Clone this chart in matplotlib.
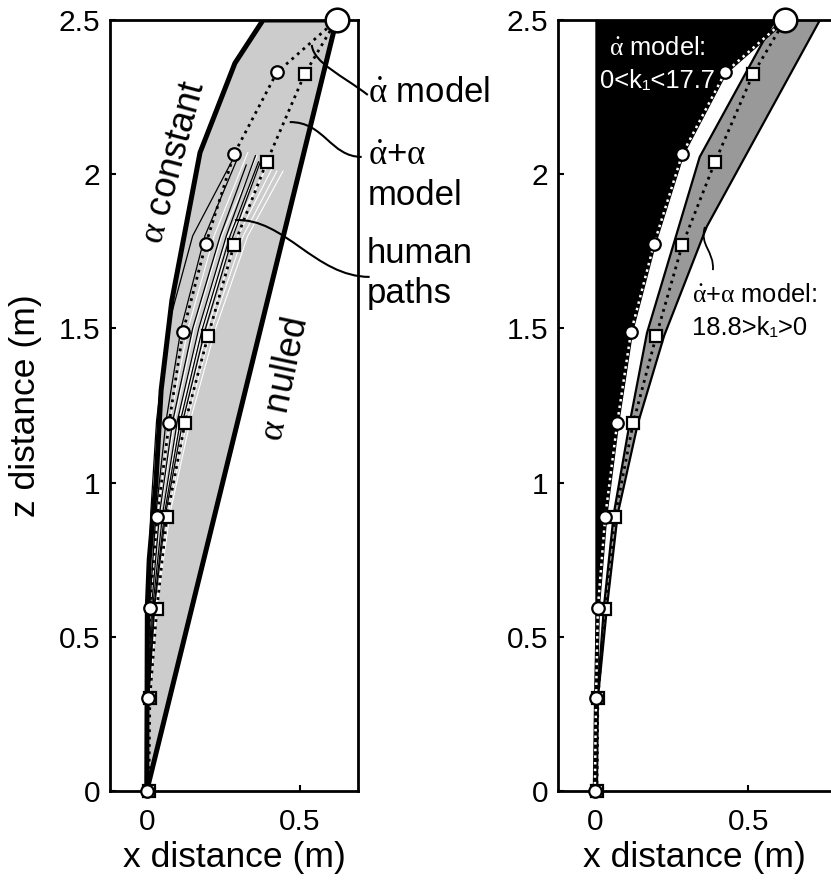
import numpy as np
import matplotlib
matplotlib.use("Agg")
import matplotlib.pyplot as plt
from matplotlib.path import Path
from matplotlib.patches import PathPatch

plt.rcParams['font.family'] = ['Liberation Sans', 'DejaVu Sans']
plt.rcParams['mathtext.fontset'] = 'custom'
plt.rcParams['mathtext.rm'] = 'Liberation Serif'
plt.rcParams['mathtext.it'] = 'Liberation Serif:italic'

# target (interception point)
target = (0.62, 2.5)

# alpha-dot model path (circles)
circ_x = [0, 0.004, 0.01, 0.034, 0.073, 0.118, 0.193, 0.285, 0.425, 0.62]
circ_z = [0, 0.30, 0.595, 0.89, 1.193, 1.488, 1.774, 2.065, 2.33, 2.5]

# alpha-dot + alpha model path (squares)
sq_x = [0.007, 0.01, 0.033, 0.066, 0.125, 0.2, 0.285, 0.392, 0.516, 0.62]
sq_z = [0, 0.30, 0.59, 0.89, 1.193, 1.475, 1.77, 2.04, 2.325, 2.5]

# boundaries of the left panel region
const_x = [0, 0.002, 0.008, 0.03, 0.047, 0.082, 0.174, 0.288, 0.38, 0.62]
const_z = [0, 0.6, 0.75, 1.0, 1.3, 1.59, 2.07, 2.36, 2.5, 2.5]
null_x = [0, 0.62]
null_z = [0, 2.5]

# human paths: x at these z levels, then an end point
hz = [0, 0.3, 0.6, 0.9, 1.2, 1.5, 1.8]
human_black = [
    [0, 0.000, 0.003, 0.013, 0.032, 0.068, 0.150],
    [0, 0.002, 0.010, 0.030, 0.063, 0.112, 0.190],
    [0, 0.004, 0.016, 0.042, 0.085, 0.150, 0.240],
    [0, 0.005, 0.020, 0.052, 0.100, 0.170, 0.260],
    [0, 0.006, 0.024, 0.058, 0.110, 0.182, 0.272],
    [0, 0.007, 0.026, 0.062, 0.118, 0.192, 0.282],
]
human_black_end = [(0.282, 2.05), (0.300, 2.06), (0.325, 2.03),
                   (0.355, 2.06), (0.365, 2.04), (0.375, 2.05)]
human_white = [
    [0, 0.003, 0.013, 0.036, 0.075, 0.135, 0.220],
    [0, 0.004, 0.017, 0.044, 0.090, 0.155, 0.245],
    [0, 0.005, 0.021, 0.052, 0.102, 0.172, 0.265],
    [0, 0.006, 0.024, 0.058, 0.112, 0.185, 0.280],
    [0, 0.007, 0.027, 0.064, 0.122, 0.198, 0.298],
    [0, 0.008, 0.030, 0.070, 0.132, 0.212, 0.315],
    [0, 0.009, 0.033, 0.076, 0.142, 0.225, 0.330],
    [0, 0.006, 0.022, 0.054, 0.105, 0.178, 0.272],
]
human_white_end = [(0.33, 2.07), (0.36, 2.06), (0.37, 2.03), (0.39, 2.02),
                   (0.41, 2.02), (0.425, 2.01), (0.445, 2.01), (0.38, 2.0)]

# right panel: range of the alpha-dot+alpha model band
band_left_x = [0.005, 0.008, 0.03, 0.062, 0.113, 0.17, 0.342, 0.587]
band_left_z = [0, 0.3, 0.6, 0.9, 1.19, 1.485, 2.056, 2.5]
band_right_x = [0.007, 0.01, 0.04, 0.075, 0.14, 0.226, 0.365, 0.734]
band_right_z = [0, 0.3, 0.6, 0.9, 1.19, 1.476, 1.83, 2.5]

yticks = [0, 0.5, 1, 1.5, 2, 2.5]
yticklabels = ['0', '0.5', '1', '1.5', '2', '2.5']
xticks = [0, 0.5]
xticklabels = ['0', '0.5']

ADOT = r'$\dot{\mathrm{α}}$'
ALPHA = r'$\mathrm{α}$'


def leader(ax, p0, p1, p2, p3, lw=1.5):
    path = Path([p0, p1, p2, p3], [Path.MOVETO, Path.CURVE4, Path.CURVE4, Path.CURVE4])
    ax.add_patch(PathPatch(path, fc='none', ec='k', lw=lw, clip_on=False, zorder=6))


def style_axes(ax):
    ax.set_ylim(0, 2.5)
    ax.set_yticks(yticks)
    ax.set_yticklabels(yticklabels)
    ax.set_xticks(xticks)
    ax.set_xticklabels(xticklabels)
    ax.tick_params(direction='in', length=4.5, width=1.5, labelsize=21.5)
    ax.tick_params(axis='y', pad=7)
    ax.tick_params(axis='x', pad=12)
    for s in ax.spines.values():
        s.set_linewidth(2)
        s.set_zorder(7)
    ax.set_xlabel('x distance (m)', fontsize=25.5, labelpad=4)


def draw_markers(ax):
    ax.plot(sq_x[:-1], sq_z[:-1], 's', ms=8, mfc='white', mec='k', mew=1.6,
            zorder=8, clip_on=False)
    ax.plot(circ_x[:-1], circ_z[:-1], 'o', ms=9, mfc='white', mec='k', mew=1.6,
            zorder=9, clip_on=False)
    ax.plot(*target, 'o', ms=17, mfc='white', mec='k', mew=1.8,
            zorder=10, clip_on=False)


fig = plt.figure(figsize=(8.31, 8.84), dpi=100)
ax1 = fig.add_axes([110 / 831, 93 / 884, 248 / 831, 771 / 884])
ax2 = fig.add_axes([558 / 831, 93 / 884, 273 / 831, 771 / 884])

# ---- left panel ----
ax1.fill(const_x + null_x[::-1], const_z + null_z[::-1], color='#cccccc', lw=0, zorder=1)
ax1.plot(const_x, const_z, color='k', lw=3.6, zorder=3, solid_joinstyle='miter')
ax1.plot(null_x, null_z, color='k', lw=3.6, zorder=3)

for xs, (ex, ez) in zip(human_white, human_white_end):
    ax1.plot(xs + [ex], hz + [ez], color='white', lw=0.8, zorder=2)
for xs, (ex, ez) in zip(human_black, human_black_end):
    ax1.plot(xs + [ex], hz + [ez], color='k', lw=0.9, zorder=2)

ax1.plot(circ_x, circ_z, color='k', lw=2, ls=':', zorder=4)
ax1.plot(sq_x, sq_z, color='k', lw=2, ls=':', zorder=4)
draw_markers(ax1)

ax1.set_xlim(-0.12, 0.69)
style_axes(ax1)
ax1.set_ylabel('z distance (m)', fontsize=25.5, labelpad=12)

ax1.text(0.089, 2.04, ALPHA + ' constant', fontsize=26, rotation=75,
         ha='center', va='center', rotation_mode='anchor', zorder=6)
ax1.text(0.451, 1.333, ALPHA + ' nulled', fontsize=26, rotation=78,
         ha='center', va='center', rotation_mode='anchor', zorder=6)

ax1.text(0.722, 2.234, ADOT + ' model', fontsize=25, va='baseline', clip_on=False)
ax1.text(0.722, 2.030, ADOT + '+' + ALPHA, fontsize=25, va='baseline', clip_on=False)
ax1.text(0.722, 1.900, 'model', fontsize=25, va='baseline', clip_on=False)
ax1.text(0.718, 1.712, 'human', fontsize=25, va='baseline', clip_on=False)
ax1.text(0.718, 1.582, 'paths', fontsize=25, va='baseline', clip_on=False)

leader(ax1, (0.539, 2.419), (0.545, 2.36), (0.64, 2.32), (0.722, 2.257))
leader(ax1, (0.467, 2.169), (0.58, 2.17), (0.60, 2.056), (0.702, 2.056))
leader(ax1, (0.288, 1.851), (0.45, 1.86), (0.55, 1.667), (0.728, 1.667))

# ---- right panel ----
ax2.fill_betweenx(circ_z, 0, circ_x, color='k', lw=0, zorder=1)
ax2.fill(band_left_x + band_right_x[::-1], band_left_z + band_right_z[::-1],
         color='#999999', lw=0, zorder=1)
ax2.plot(band_left_x, band_left_z, color='k', lw=1.6, zorder=3)
ax2.plot(band_right_x, band_right_z, color='k', lw=1.6, zorder=3)
ax2.plot(sq_x, sq_z, color='k', lw=2, ls=':', zorder=4)
ax2.plot(circ_x, circ_z, color='k', lw=3, zorder=4)
ax2.plot(circ_x, circ_z, color='white', lw=1.8, ls=':', zorder=5)
draw_markers(ax2)

ax2.set_xlim(-0.12, 0.77)
style_axes(ax2)
ax2.spines['right'].set_visible(False)

ax2.text(0.205, 2.387, ADOT + ' model:', fontsize=18.4, color='white',
         ha='center', va='baseline', zorder=6)
ax2.text(0.205, 2.279, '0<k₁<17.7', fontsize=18.4, color='white',
         ha='center', va='baseline', zorder=6)
ax2.text(0.316, 1.586, ADOT + '+' + ALPHA + ' model:', fontsize=18.4,
         va='baseline', zorder=6)
ax2.text(0.316, 1.479, '18.8>k₁>0', fontsize=18.4, va='baseline', zorder=6)
leader(ax2, (0.359, 1.829), (0.34, 1.77), (0.39, 1.75), (0.385, 1.689), lw=1.3)

fig.savefig('out.png', dpi=100)
